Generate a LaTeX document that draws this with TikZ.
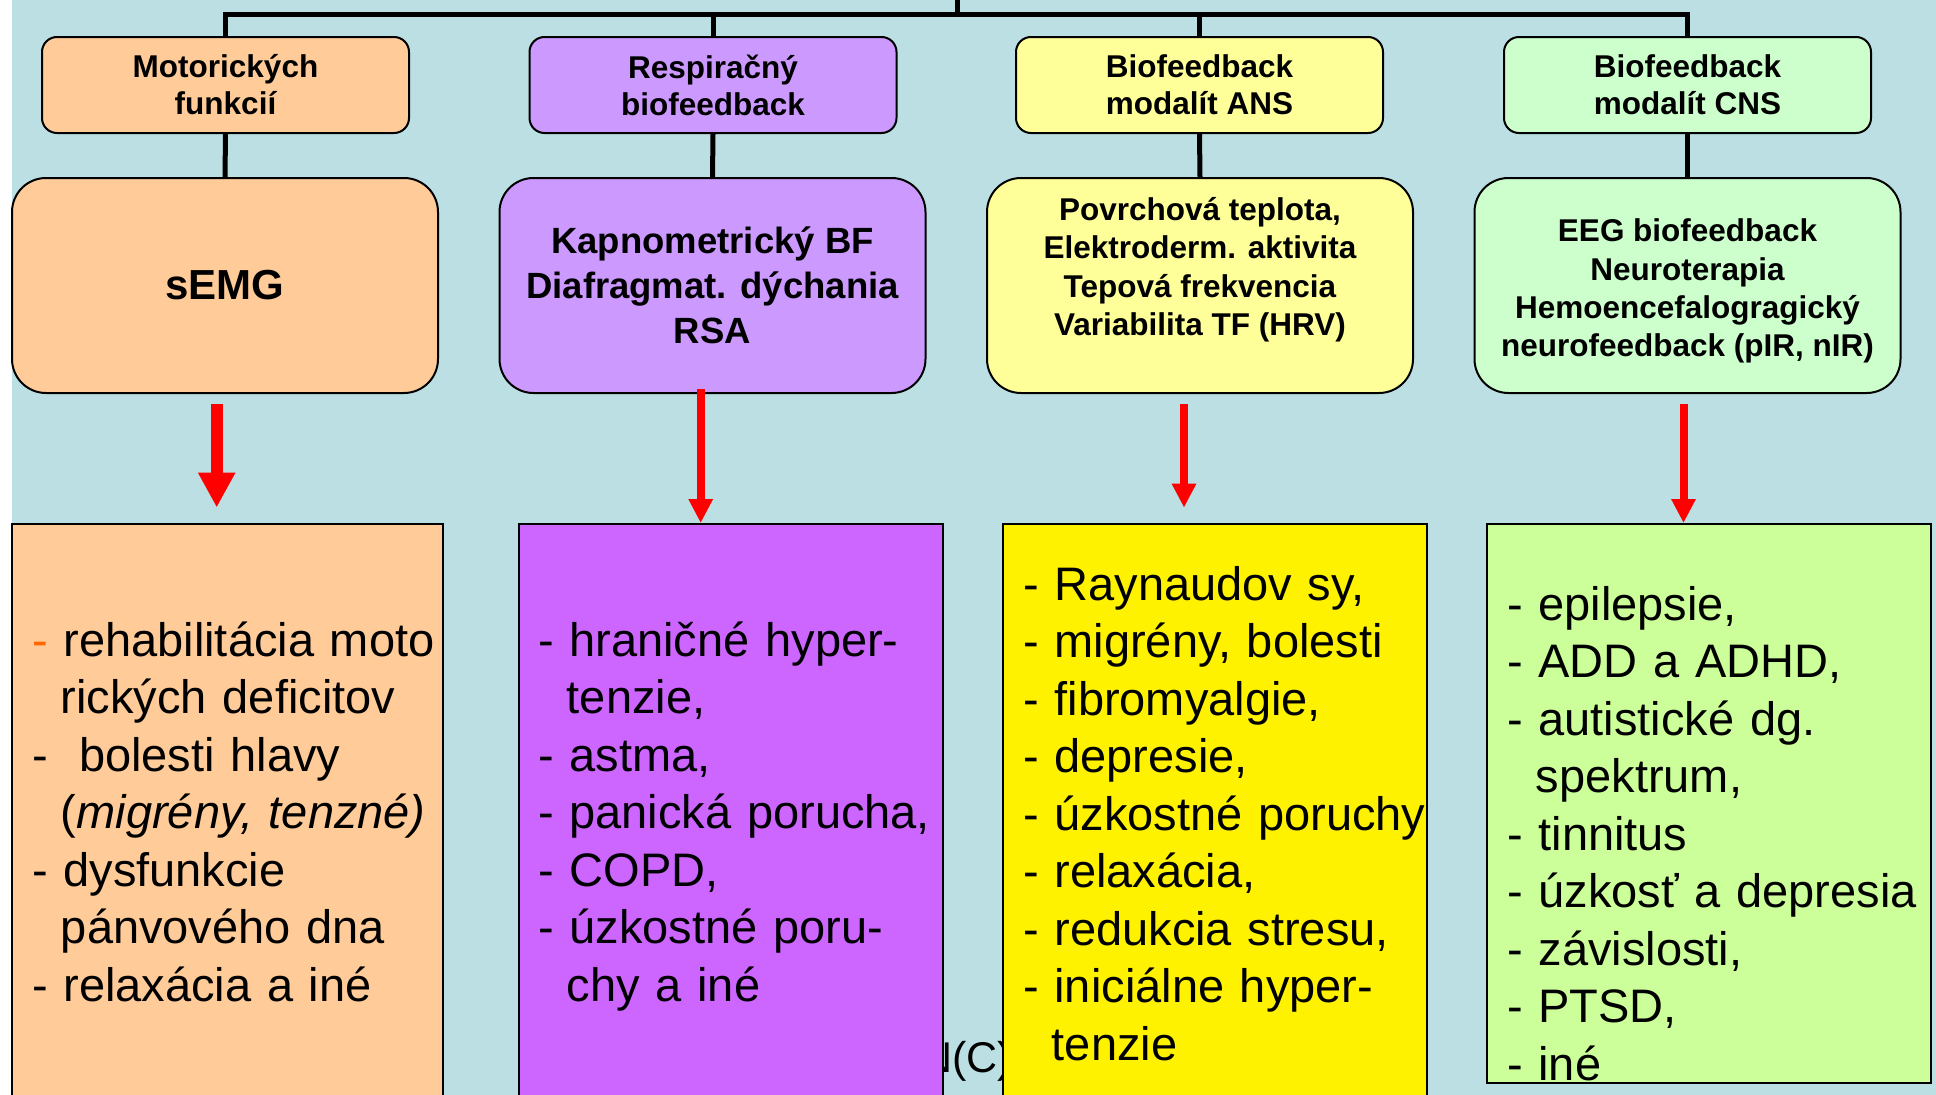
\documentclass[tikz,border=0pt]{standalone}
\usepackage{fontspec}
\setmainfont{Liberation Sans}
\usetikzlibrary{arrows.meta}
\definecolor{bgblue}{RGB}{187,223,226}
\definecolor{peach}{RGB}{255,204,153}
\definecolor{lilac}{RGB}{204,153,255}
\definecolor{paleyellow}{RGB}{255,255,153}
\definecolor{palegreen}{RGB}{204,255,204}
\definecolor{purplebox}{RGB}{204,102,255}
\definecolor{limebox}{RGB}{204,255,153}
\definecolor{dashorange}{RGB}{255,102,0}
\newcommand{\listindent}{\hspace*{.61em}}

\tikzset{
  head/.style={draw, line width=2pt, rounded corners=15pt, minimum width=367pt, minimum height=96pt,
    inner sep=0pt, align=center, font=\fontsize{31.5}{37}\selectfont\bfseries},
  sig/.style={draw, line width=2pt, rounded corners=34pt, minimum width=426pt, minimum height=215pt,
    inner sep=0pt, align=center, font=\fontsize{31.5}{38.2}\selectfont\bfseries},
  listbox/.style={draw, line width=2pt, inner sep=0pt},
  listtext/.style={anchor=base west, inner sep=0pt, text width=460pt, align=left,
    font=\fontsize{47}{57.5}\selectfont},
  tree/.style={line width=5pt},
  fatarrow/.style={draw=red, line width=12pt, -{Triangle[width=35pt,length=35pt]}},
  thinarrow/.style={draw=red, line width=8pt, -{Triangle[width=23pt,length=24pt]}}
}

\begin{document}
\begin{tikzpicture}[x=1pt,y=-1pt]
\useasboundingbox (0,0) rectangle (1936,1095);
\fill[white] (0,0) rectangle (1936,1095);
\fill[bgblue] (12,0) rectangle (1936,1095);

% text left behind the boxes
\node[anchor=base east, inner sep=0pt, font=\fontsize{43}{50}\selectfont] (credit) at (1012.5,1072) {N(C)};

% top row
\node[head, fill=peach] (hd1) at (225.5,85) {Motorických\\ funkcií};
\node[head, fill=lilac] (hd2) at (713,85) {Respiračný\\ biofeedback};
\node[head, fill=paleyellow] (hd3) at (1199.5,85) {Biofeedback\\ modalít ANS};
\node[head, fill=palegreen] (hd4) at (1687.5,85) {Biofeedback\\ modalít CNS};

% signals
\node[sig, fill=peach, font=\fontsize{42}{50}\selectfont\bfseries] (sig1) at (225,285.5) {sEMG};
\node[sig, fill=lilac, font=\fontsize{36.5}{45}\selectfont\bfseries] (sig2) at (712.5,285.5)
  {Kapnometrický BF\\ Diafragmat. dýchania\\ RSA};
\node[sig, fill=paleyellow] (sig3) at (1200,285.5)
  {Povrchová teplota,\\ Elektroderm. aktivita\\ Tepová frekvencia\\ Variabilita TF (HRV)\\ \mbox{}};
\node[sig, fill=palegreen] (sig4) at (1687.5,285.5)
  {\rule{0pt}{34pt}EEG biofeedback\\ Neuroterapia\\ Hemoencefalogragický\\ neurofeedback (pIR, nIR)};

% tree lines
\coordinate (root) at (957,-5);
\coordinate (bar) at (957,14);
\draw[tree] (root) -- (bar);
\draw[tree] (hd1.north) |- (bar) -| (hd4.north);
\draw[tree] (hd2.north) -- (hd2.north |- bar);
\draw[tree] (hd3.north) -- (hd3.north |- bar);
\draw[tree] (hd1.south) -- (sig1.north);
\draw[tree] (hd2.south) -- (sig2.north);
\draw[tree] (hd3.south) -- (sig3.north);
\draw[tree] (hd4.south) -- (sig4.north);

% lists
\node[listbox, fill=peach, minimum width=431pt, minimum height=576pt] (list1) at (227.5,812) {};
\node[listbox, fill=purplebox, minimum width=424pt, minimum height=576pt] (list2) at (731,812) {};
\node[listbox, fill=yellow, minimum width=424pt, minimum height=576pt] (list3) at (1215,812) {};
\node[listbox, fill=limebox, minimum width=444pt, minimum height=559pt] (list4) at (1709,803.5) {};

\node[listtext] (txt1) at (32,656) {{\color{dashorange}-} rehabilitácia moto\\
  \listindent rických deficitov\\
  -\ \ bolesti hlavy\\
  \listindent(\textit{migrény, tenzné)}\\
  - dysfunkcie\\
  \listindent pánvového dna\\
  - relaxácia a iné};
\node[listtext] (txt2) at (538,656) {- hraničné hyper-\\
  \listindent tenzie,\\
  - astma,\\
  - panická porucha,\\
  - COPD,\\
  - úzkostné poru-\\
  \listindent chy a iné};
\node[listtext] (txt3) at (1023,600) {- Raynaudov sy,\\
  - migrény, bolesti\\
  - fibromyalgie,\\
  - depresie,\\
  - úzkostné poruchy\\
  - relaxácia,\\
  - redukcia stresu,\\
  - iniciálne hyper-\\
  \listindent tenzie};
\node[listtext] (txt4) at (1507,620) {- epilepsie,\\
  - ADD a ADHD,\\
  - autistické dg.\\
  \listindent spektrum,\\
  - tinnitus\\
  - úzkosť a depresia\\
  - závislosti,\\
  - PTSD,\\
  - iné};

% red arrows
\draw[fatarrow, shorten <=10pt, shorten >=15.5pt] ([xshift=-8.3pt]sig1.south) -- ([xshift=-8.3pt]sig1.south |- list1.north);
\draw[thinarrow, shorten <=-5pt] ([xshift=-11.8pt]sig2.south) -- ([xshift=-11.8pt]sig2.south |- list2.north);
\draw[thinarrow, shorten <=10pt, shorten >=15.4pt] ([xshift=-16pt]sig3.south) -- ([xshift=-16pt]sig3.south |- list3.north);
\draw[thinarrow, shorten <=10pt] ([xshift=-4pt]sig4.south) -- ([xshift=-4pt]sig4.south |- list4.north);
\end{tikzpicture}
\end{document}
